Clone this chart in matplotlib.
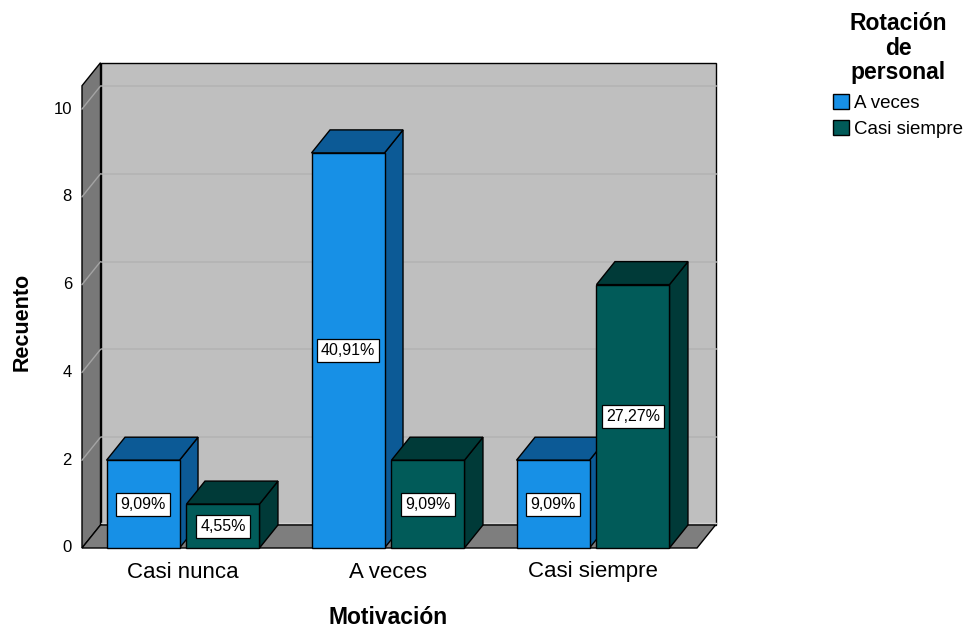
import matplotlib.pyplot as plt
from matplotlib.patches import Polygon, Patch

plt.rcParams['font.family'] = ['Liberation Sans', 'DejaVu Sans']

categories = ['Casi nunca', 'A veces', 'Casi siempre']
series = ['A veces', 'Casi siempre']
counts = {
    'A veces': [2, 9, 2],
    'Casi siempre': [1, 2, 6],
}
percent_labels = {
    'A veces': ['9,09%', '40,91%', '9,09%'],
    'Casi siempre': ['4,55%', '9,09%', '27,27%'],
}
yticks = [0, 2, 4, 6, 8, 10]

front_col = {'A veces': '#1790E6', 'Casi siempre': '#015B59'}
dark_col = {'A veces': '#0C5A96', 'Casi siempre': '#003A38'}

# pixel layout of the reference (967x631)
W, H = 967, 631
px_cat, x0_px = 205.0, 183.0   # px per category step, px of first category
px_cnt, y0_px = 43.9, 548.0    # px per count unit, px of zero line

fig = plt.figure(figsize=(W / 100, H / 100), dpi=100)
ax = fig.add_axes([0, 0, 1, 1])
ax.set_xlim(-x0_px / px_cat, (W - x0_px) / px_cat)
ax.set_ylim((y0_px - H) / px_cnt, y0_px / px_cnt)
ax.axis('off')

dx = 18.5 / px_cat
dy = 23.0 / px_cnt
xmin, xmax = (82 - x0_px) / px_cat, (697 - x0_px) / px_cat
ymax = 10.53

# walls
back = Polygon([(xmin + dx, dy), (xmax + dx, dy), (xmax + dx, ymax + dy), (xmin + dx, ymax + dy)],
               closed=True, fc='#BFBFBF', ec='black', lw=1.0, zorder=1)
left = Polygon([(xmin, 0), (xmin, ymax), (xmin + dx, ymax + dy), (xmin + dx, dy)],
               closed=True, fc='#787878', ec='black', lw=1.0, zorder=2)
floor = Polygon([(xmin, 0), (xmax, 0), (xmax + dx, dy), (xmin + dx, dy)],
                closed=True, fc='#7E7E7E', ec='black', lw=1.0, zorder=2)
for p in (back, left, floor):
    ax.add_patch(p)

for t in yticks[1:]:
    ax.plot([xmin + dx, xmax + dx], [t + dy, t + dy], color='#B3B3B3', lw=1.2, zorder=1.5)
    ax.plot([xmin, xmin + dx], [t, t + dy], color='#A4A4A4', lw=1.0, zorder=2.5)
ax.plot([xmin + dx, xmax + dx], [dy + 0.04, dy + 0.04], color='#D0D0D0', lw=1.0, zorder=1.5)

# bars
bw = 0.356
offsets = [-0.195, 0.195]
z = 3
for i, cat in enumerate(categories):
    for s, off in zip(series, offsets):
        v = counts[s][i]
        xl, xr = i + off - bw / 2, i + off + bw / 2
        side = Polygon([(xr, 0), (xr, v), (xr + dx, v + dy), (xr + dx, dy)],
                       closed=True, fc=dark_col[s], ec='black', lw=1.0, zorder=z)
        top = Polygon([(xl, v), (xr, v), (xr + dx, v + dy), (xl + dx, v + dy)],
                      closed=True, fc=dark_col[s], ec='black', lw=1.0, zorder=z)
        front = Polygon([(xl, 0), (xr, 0), (xr, v), (xl, v)],
                        closed=True, fc=front_col[s], ec='black', lw=1.0, zorder=z + 0.1)
        for p in (side, top, front):
            ax.add_patch(p)
        ax.text(i + off, v / 2, percent_labels[s][i], ha='center', va='center', fontsize=11.5,
                zorder=z + 0.2,
                bbox=dict(boxstyle='square,pad=0.25', fc='white', ec='black', lw=0.9))
        z += 1

# axis texts
for t in yticks:
    ax.text(xmin - 10 / px_cat, t, str(t), ha='right', va='center', fontsize=12)
for i, cat in enumerate(categories):
    ax.text(i, (y0_px - 572) / px_cnt, cat, ha='center', va='center', fontsize=16)
ax.text(1.0, (y0_px - 618) / px_cnt, 'Motivación', ha='center', va='center',
        fontsize=16.5, fontweight='bold')
ax.text((22 - x0_px) / px_cat, (y0_px - 322) / px_cnt, 'Recuento', ha='center', va='center',
        fontsize=15.5, fontweight='bold', rotation=90)

handles = [Patch(fc=front_col[s], ec='black', lw=1.0) for s in series]
leg = fig.legend(handles, series, loc='upper center', bbox_to_anchor=(898 / W, 1 + 1 / H),
                 title='Rotación\nde\npersonal', fontsize=13.5, frameon=False,
                 handlelength=0.85, handleheight=0.85, handletextpad=0.3,
                 labelspacing=0.42, borderpad=0.2, alignment='center')
leg.get_title().set_fontsize(16.5)
leg.get_title().set_fontweight('bold')
leg.get_title().set_multialignment('center')
leg.get_title().set_linespacing(1.08)
leg._legend_box.sep = 7

fig.savefig('out.png', dpi=100)
